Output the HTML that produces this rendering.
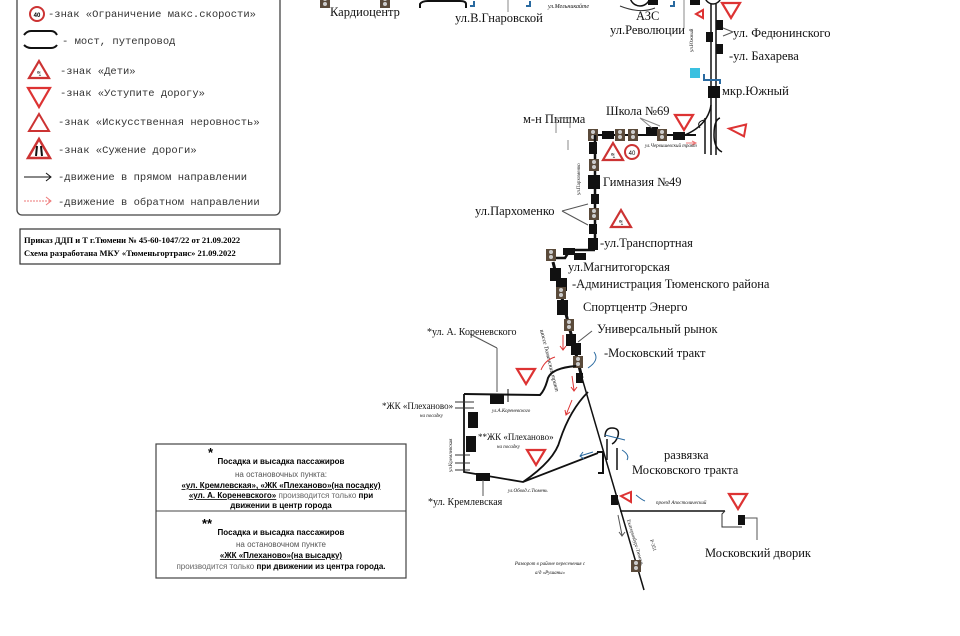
<!DOCTYPE html>
<html><head><meta charset="utf-8"><style>
html,body{margin:0;padding:0;background:#fff;}
svg{display:block}
.s{font-family:"Liberation Serif","Noto Serif CJK SC",serif;fill:#111}
.m{font-family:"Liberation Mono",monospace;fill:#333;font-size:10.5px}
.a{font-family:"Liberation Sans",sans-serif;font-size:8px;fill:#222;text-anchor:middle}
.tl{font-family:"Liberation Sans",sans-serif;font-size:8px;fill:#555;text-anchor:middle}
.b{font-weight:bold;fill:#000}
</style></head><body>
<svg width="960" height="636" viewBox="0 0 960 636" xmlns="http://www.w3.org/2000/svg">
<rect width="960" height="636" fill="#fff"/>
<defs>
<g id="tl"><rect x="-5" y="-6" width="10" height="12" fill="#5a4a3a"/><circle cx="0" cy="-3" r="2" fill="#ccc"/><circle cx="0" cy="2" r="2" fill="#ccc"/></g>
<g id="yd"><path d="M-9,-7 L9,-7 L0,8 Z" fill="none" stroke="#d33" stroke-width="2.2"/></g>
<g id="ch"><path d="M0,-9 L10,8 L-10,8 Z" fill="#fff" stroke="#c33" stroke-width="2.2"/><text x="0" y="6" font-size="7" text-anchor="middle" fill="#333" font-family="Liberation Sans">ꔡ</text></g>
</defs>

<!-- Legend -->
<rect x="17" y="-6" width="263" height="221" rx="5" fill="#fff" stroke="#444" stroke-width="1.3"/>
<circle cx="37" cy="14" r="7" fill="#fff" stroke="#c33" stroke-width="2"/><text x="37" y="17" font-size="6" text-anchor="middle" font-family="Liberation Sans" font-weight="bold">40</text>
<text class="m" x="48" y="17">-знак «Ограничение макс.скорости»</text>
<path d="M24,35 Q27,31 31,31 L51,31 Q55,31 57,35 M24,45 Q27,48 31,48 L51,48 Q55,48 57,45" fill="none" stroke="#111" stroke-width="2"/>
<text class="m" x="62" y="44">- мост, путепровод</text>
<use href="#ch" x="39" y="70"/><text class="m" x="60" y="74">-знак «Дети»</text>
<path d="M28,88 L50,88 L39,107 Z" fill="none" stroke="#d33" stroke-width="2.2"/><text class="m" x="60" y="96">-знак «Уступите дорогу»</text>
<path d="M39,114 L49,131 L29,131 Z" fill="none" stroke="#c33" stroke-width="2"/><text class="m" x="58" y="125">-знак «Искусственная неровность»</text>
<path d="M39,139 L50,158 L28,158 Z" fill="#fff" stroke="#c33" stroke-width="2.5"/><path d="M36,156 L37,146 M42,156 L41,146" stroke="#111" stroke-width="2"/>
<text class="m" x="58" y="153">-знак «Сужение дороги»</text>
<line x1="24" y1="177" x2="50" y2="177" stroke="#111"/><path d="M46,173 L51,177 L46,181" fill="none" stroke="#111"/>
<text class="m" x="58" y="180">-движение в прямом направлении</text>
<line x1="24" y1="201" x2="50" y2="201" stroke="#e77" stroke-dasharray="2,1"/><path d="M46,197 L51,201 L46,205" fill="none" stroke="#e77"/>
<text class="m" x="58" y="205">-движение в обратном направлении</text>

<rect x="20" y="229" width="260" height="35" fill="#fff" stroke="#333" stroke-width="1.2"/>
<text class="s b" x="24" y="243" font-size="8.5">Приказ ДДП и Т г.Тюмени № 45-60-1047/22 от 21.09.2022</text>
<text class="s b" x="24" y="256" font-size="8.5">Схема разработана МКУ «Тюменьгортранс» 21.09.2022</text>

<!-- Notice box -->
<rect x="156" y="444" width="250" height="134" fill="#fff" stroke="#444" stroke-width="1.2"/>
<line x1="156" y1="511" x2="406" y2="511" stroke="#444"/>
<text x="208" y="457" font-size="13" class="b" font-family="Liberation Sans">*</text>
<text class="a b" x="281" y="464">Посадка и высадка пассажиров</text>
<text class="tl" x="281" y="477">на остановочных пункта:</text>
<text class="a b" x="281" y="488" text-decoration="underline">«ул. Кремлевская», «ЖК «Плеханово»(на посадку)</text>
<text class="a" x="281" y="498"><tspan class="b" text-decoration="underline">«ул. А. Кореневского»</tspan> <tspan fill="#666">производится только</tspan> <tspan class="b">при</tspan></text>
<text class="a b" x="281" y="508">движении в центр города</text>
<text x="202" y="528" font-size="13" class="b" font-family="Liberation Sans">**</text>
<text class="a b" x="281" y="535">Посадка и высадка пассажиров</text>
<text class="tl" x="281" y="547">на остановочном пункте</text>
<text class="a b" x="281" y="558" text-decoration="underline">«ЖК «Плеханово»(на высадку)</text>
<text class="a" x="281" y="569"><tspan fill="#666">производится только</tspan> <tspan class="b">при движении из центра города.</tspan></text>

<!-- top strip -->
<use href="#tl" x="325" y="2"/><use href="#tl" x="385" y="2"/>
<text class="s" x="330" y="16" font-size="12.5">Кардиоцентр</text>
<path d="M420,8 L420,4 Q422,1 428,1 L460,1 Q466,1 466,4 L466,8" fill="none" stroke="#111" stroke-width="2"/>
<path d="M474,1 L474,6 L470,6 M530,1 L530,6 L526,6 M674,1 L674,6 L670,6" fill="none" stroke="#2a6aa0" stroke-width="2"/>
<line x1="508" y1="0" x2="508" y2="12" stroke="#888"/>
<text class="s" x="455" y="22" font-size="12.5">ул.В.Гнаровской</text>
<text class="s" x="548" y="8" font-size="6" font-style="italic">ул.Мельникайте</text>
<circle cx="640" cy="-4" r="10" fill="none" stroke="#111" stroke-width="1.5"/>
<rect x="648" y="-4" width="10" height="9" fill="#111"/><rect x="690" y="-4" width="10" height="9" fill="#111"/>
<path d="M620,6 Q640,14 655,8" fill="none" stroke="#333"/>
<text class="s" x="636" y="20" font-size="12.5">АЗС</text>
<text class="s" x="610" y="34" font-size="12.5">ул.Революции</text>
<line x1="684" y1="0" x2="684" y2="28" stroke="#888"/>
<circle cx="713" cy="-4" r="8" fill="#fff" stroke="#111" stroke-width="1.5"/>

<!-- right vertical road -->
<line x1="711" y1="4" x2="711" y2="155" stroke="#111" stroke-width="1.5"/>
<line x1="716" y1="4" x2="716" y2="155" stroke="#111" stroke-width="1.5"/>
<path d="M703,10 L703,18 L696,14 Z" fill="none" stroke="#d33" stroke-width="2"/>
<use href="#yd" x="731" y="10"/>
<rect x="716" y="20" width="7" height="10" fill="#111"/><rect x="706" y="32" width="7" height="10" fill="#111"/>
<rect x="716" y="44" width="7" height="10" fill="#111"/>
<rect x="708" y="86" width="12" height="12" fill="#111"/>
<path d="M723,28 L733,32 M723,36 L733,32" stroke="#555"/>
<text class="s" x="733" y="37" font-size="12.5">ул. Федюнинского</text>
<text class="s" x="729" y="60" font-size="12.5">-ул. Бахарева</text>
<text class="s" x="722" y="95" font-size="12.5">мкр.Южный</text>
<rect x="690" y="68" width="10" height="10" fill="#3ac0e0"/>
<path d="M704,74 L704,80 L720,80 L720,84" fill="none" stroke="#2a6aa0" stroke-width="2"/>
<text class="s" x="693" y="52" font-size="5" transform="rotate(-90 693 52)">ул.Южный</text>
<path d="M711,105 Q708,125 685,135" fill="none" stroke="#111" stroke-width="1.5"/>
<path d="M704,120 Q696,122 700,128" fill="none" stroke="#111"/>
<path d="M705,118 L705,154 M720,118 Q714,120 714,135 Q714,148 722,152" fill="none" stroke="#111" stroke-width="1.5"/>
<use href="#yd" x="684" y="122"/>
<path d="M745,123 L729,130 L745,135 Z" fill="none" stroke="#d33" stroke-width="2" transform="rotate(10 737 130)"/>

<!-- horizontal route y~135 -->
<line x1="592" y1="135" x2="696" y2="135" stroke="#111" stroke-width="2"/>
<rect x="602" y="131" width="12" height="8" fill="#111"/><rect x="646" y="127" width="12" height="8" fill="#111"/><rect x="673" y="132" width="12" height="8" fill="#111"/>
<use href="#tl" x="593" y="135"/><use href="#tl" x="620" y="135"/><use href="#tl" x="633" y="135"/><use href="#tl" x="662" y="135"/>
<path d="M686,143 L695,143 M692,141 L696,143 L692,145" stroke="#e77" fill="none"/>
<text class="s" x="645" y="147" font-size="5" font-style="italic">ул.Червишевский тракт</text>
<text class="s" x="606" y="115" font-size="12.5">Школа №69</text>
<path d="M640,118 L652,128 M640,118 L660,126" stroke="#888" fill="none"/>
<text class="s" x="523" y="123" font-size="12.5">м-н Пышма</text>
<path d="M556,118 L556,133 M570,118 L556,118 M570,118 L570,128 M568,150 L568,140" stroke="#888" fill="none"/>
<use href="#ch" x="613" y="152"/>
<circle cx="632" cy="152" r="7" fill="#fff" stroke="#c33" stroke-width="2"/><text x="632" y="155" font-size="6" text-anchor="middle" font-family="Liberation Sans">40</text>

<!-- vertical route x~594 -->
<line x1="595" y1="135" x2="595" y2="250" stroke="#111" stroke-width="2.5"/>
<rect x="589" y="142" width="8" height="12" fill="#111"/><use href="#tl" x="594" y="165"/>
<rect x="588" y="175" width="12" height="14" fill="#111"/>
<text class="s" x="603" y="186" font-size="12.5">Гимназия №49</text>
<rect x="591" y="194" width="8" height="10" fill="#111"/>
<use href="#tl" x="594" y="214"/>
<rect x="589" y="224" width="8" height="10" fill="#111"/>
<rect x="588" y="238" width="10" height="12" fill="#111"/>
<text class="s" x="600" y="247" font-size="12.5">-ул.Транспортная</text>
<text class="s" x="475" y="215" font-size="12.5">ул.Пархоменко</text>
<path d="M562,211 L588,204 M562,211 L588,225" stroke="#555" fill="none"/>
<use href="#ch" x="621" y="219"/>
<text class="s" x="580" y="195" font-size="5" transform="rotate(-90 580 195)">ул.Пархоменко</text>

<!-- turn to main tract -->
<path d="M595,250 L570,250 L565,258 L552,258" fill="none" stroke="#111" stroke-width="2.5"/>
<rect x="563" y="248" width="12" height="7" fill="#111"/><rect x="574" y="253" width="12" height="7" fill="#111"/>
<use href="#tl" x="551" y="255"/>
<text class="s" x="568" y="271" font-size="12.5">ул.Магнитогорская</text>
<line x1="553" y1="262" x2="582" y2="378" stroke="#111" stroke-width="3"/>
<rect x="550" y="268" width="11" height="13" fill="#111"/><rect x="556" y="278" width="11" height="13" fill="#111"/>
<text class="s" x="572" y="288" font-size="12.5">-Администрация Тюменского района</text>
<use href="#tl" x="561" y="293"/>
<rect x="557" y="300" width="11" height="15" fill="#111"/>
<text class="s" x="583" y="311" font-size="12.5">Спортцентр Энерго</text>
<use href="#tl" x="569" y="325"/>
<rect x="566" y="334" width="10" height="12" fill="#111"/><rect x="571" y="343" width="10" height="12" fill="#111"/>
<text class="s" x="597" y="333" font-size="12.5">Универсальный рынок</text>
<path d="M592,331 L578,342" stroke="#555"/>
<use href="#tl" x="578" y="362"/>
<text class="s" x="604" y="357" font-size="12.5">-Московский тракт</text>
<text class="s" x="540" y="330" font-size="6" font-style="italic" transform="rotate(76 540 330)">шоссе Тюменский тракт</text>
<rect x="576" y="373" width="7" height="10" fill="#111"/>
<line x1="582" y1="378" x2="644" y2="590" stroke="#111" stroke-width="1.5"/>
<path d="M563,335 L563,350 M560,346 L563,350 L566,346" stroke="#d33" fill="none"/>
<path d="M572,376 L574,390 M571,387 L574,391 L577,387" stroke="#d33" fill="none"/>
<path d="M572,400 L566,415 M565,410 L566,415 L570,412" stroke="#d33" fill="none"/>
<path d="M541,370 Q545,360 555,357" stroke="#d33" fill="none"/>
<path d="M588,368 Q600,360 594,352" stroke="#2a6aa0" fill="none"/>
<use href="#yd" x="526" y="376"/>

<!-- left loop -->
<path d="M464,394 L540,395 Q545,390 548,378 Q552,368 576,366" fill="none" stroke="#111" stroke-width="2"/>
<line x1="497" y1="392" x2="497" y2="348" stroke="#555"/><line x1="497" y1="348" x2="470" y2="334" stroke="#555"/>
<text class="s" x="427" y="335" font-size="10">*ул. А. Кореневского</text>
<rect x="490" y="395" width="14" height="9" fill="#111"/>
<line x1="508" y1="389" x2="508" y2="402" stroke="#111"/>
<text class="s" x="492" y="412" font-size="5" font-style="italic">ул.А.Кореневского</text>
<path d="M464,394 L464,472 L523,482 L598,453" fill="none" stroke="#111" stroke-width="1.8"/>
<path d="M523,482 Q555,460 560,440 Q570,410 588,392" fill="none" stroke="#111" stroke-width="1.8"/>
<path d="M597,452 L603,452 L603,473 L598,473" fill="none" stroke="#111" stroke-width="2"/>
<path d="M593,452 L580,456 M583,452 L580,456 L584,459" stroke="#2a6aa0" fill="none"/>
<rect x="468" y="412" width="10" height="16" fill="#111"/><rect x="466" y="436" width="10" height="16" fill="#111"/>
<rect x="476" y="473" width="14" height="8" fill="#111"/>
<path d="M455,402 L474,402 M455,408 L474,408 M455,455 L470,455 M455,463 L470,463 M455,470 L470,470" stroke="#333"/>
<text class="s" x="382" y="409" font-size="9">*ЖК «Плеханово»</text>
<text class="s" x="420" y="417" font-size="5" font-style="italic">на посадку</text>
<text class="s" x="478" y="440" font-size="9">**ЖК «Плеханово»</text>
<text class="s" x="497" y="448" font-size="5" font-style="italic">на посадку</text>
<text class="s" x="452" y="472" font-size="5" transform="rotate(-90 452 472)">ул.Кремлевская</text>
<line x1="483" y1="480" x2="483" y2="496" stroke="#555"/>
<text class="s" x="428" y="505" font-size="10">*ул. Кремлевская</text>
<text class="s" x="508" y="492" font-size="5" font-style="italic">ул.Обвод.с.Тюмень</text>
<use href="#yd" x="536" y="457"/>

<!-- interchange -->
<path d="M605,437 Q605,428 612,428 Q620,428 618,436 Q616,442 612,444" fill="none" stroke="#111" stroke-width="1.5"/>
<path d="M607,439 L607,460 M617,448 L617,470" stroke="#111" stroke-width="1.5"/>
<path d="M605,435 L625,440 M622,450 Q630,455 627,460" stroke="#2a6aa0" fill="none"/>
<text class="s" x="664" y="459" font-size="12.5">развязка</text>
<text class="s" x="632" y="474" font-size="12.5">Московского тракта</text>
<rect x="611" y="495" width="7" height="10" fill="#111"/>
<path d="M621,496 L631,492 L631,502 Z" fill="none" stroke="#d33" stroke-width="2"/>
<path d="M636,495 Q642,500 645,501" stroke="#2a6aa0" fill="none"/>
<line x1="620" y1="511" x2="725" y2="511" stroke="#111" stroke-width="1.5"/>
<text class="s" x="656" y="504" font-size="5" font-style="italic">проезд Апостолический</text>
<path d="M725,511 L722,514 L722,527 L742,527" fill="none" stroke="#333"/>
<use href="#yd" x="738" y="501"/>
<rect x="738" y="515" width="7" height="10" fill="#111"/>
<path d="M745,518 L757,518 L757,540" fill="none" stroke="#555"/>
<text class="s" x="705" y="557" font-size="12.5">Московский дворик</text>
<path d="M618,515 L622,535 M619,532 L622,536 L625,532" stroke="#555" fill="none"/>
<text class="s" x="627" y="520" font-size="5" transform="rotate(73 627 520)">Екатеринбург-Тюмень</text>
<text class="s" x="650" y="540" font-size="5" transform="rotate(73 650 540)">Р-351</text>
<use href="#tl" x="636" y="566"/>
<text class="s" x="550" y="565" font-size="5" font-style="italic" text-anchor="middle">Разворот в районе пересечения с</text>
<text class="s" x="550" y="574" font-size="5" font-style="italic" text-anchor="middle">а/д «Рушаны»</text>
</svg>
</body></html>
